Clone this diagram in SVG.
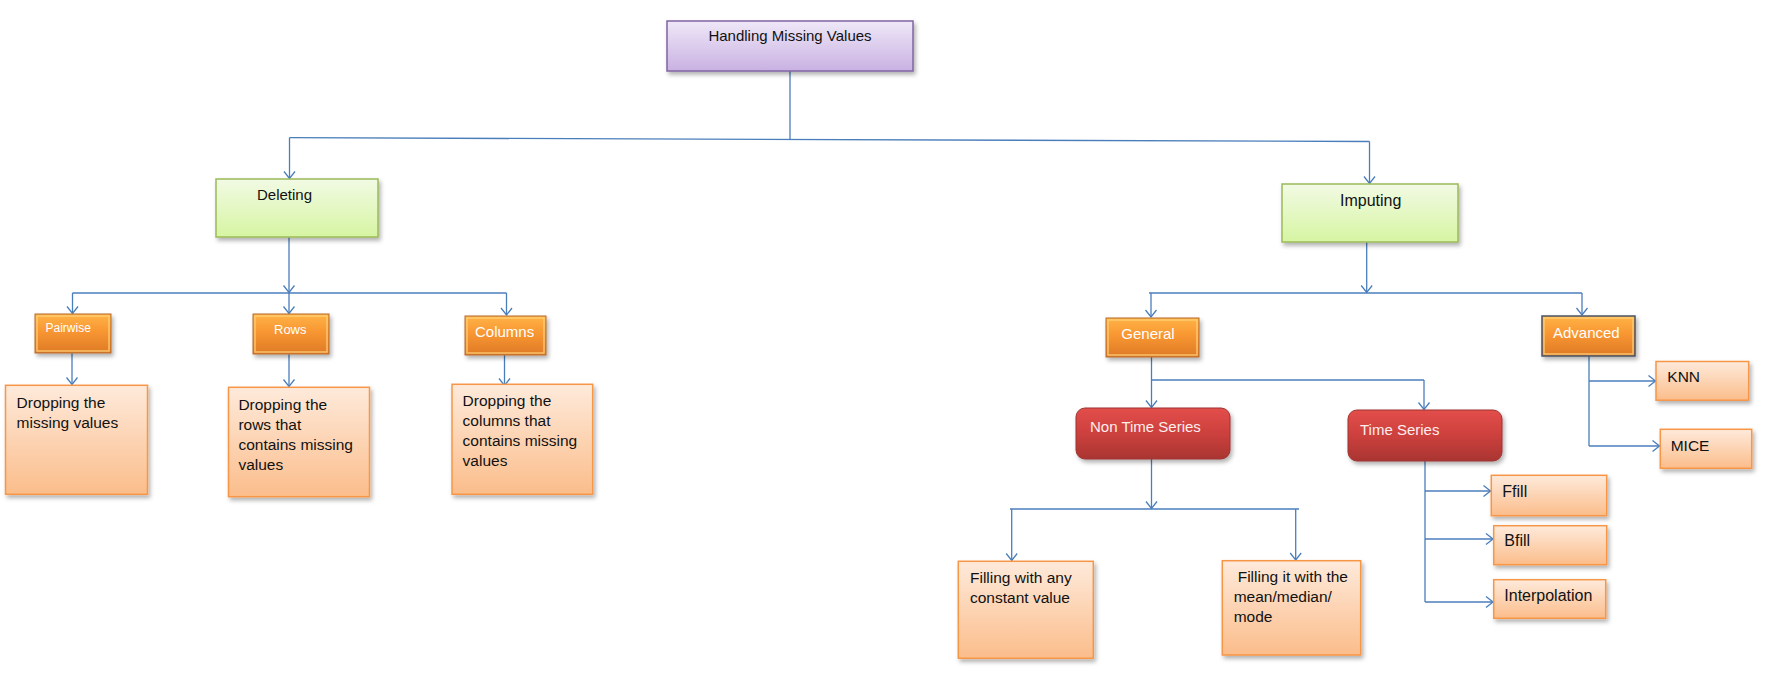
<svg xmlns="http://www.w3.org/2000/svg" width="1781" height="682" viewBox="0 0 1781 682">
  <style>
    text { font-family: "Liberation Sans", Arial, sans-serif; font-size: 15.5px; fill: #111; }
    .hd { font-size: 15px; }
    .wt { fill: #fff; font-size: 15px; }
    .pk { fill: #fdeeee; font-size: 15px; }
    .conn path { fill: none; stroke: #4a7ebb; stroke-width: 1.3; }
    .arr path { marker-end: url(#arr); }
    .root { fill: url(#gPurple); stroke: #8064a2; stroke-width: 1.5; }
    .cat { fill: url(#gGreen); stroke: #9bbb59; stroke-width: 1.5; }
    .orn { fill: url(#gOrange); stroke: #b86a2c; stroke-width: 1; }
    .hi { fill: none; stroke: #ffd27a; stroke-width: 1.5; opacity: 0.8; }
    .red { fill: url(#gRed); stroke: #9c3431; stroke-width: 1; }
    .leaf { fill: url(#gLeaf); stroke: #f79646; stroke-width: 1.5; }
    .sh { filter: url(#shadow); }
  </style>
  <defs>
    <linearGradient id="gPurple" x1="0" y1="0" x2="0" y2="1">
      <stop offset="0" stop-color="#efe8f8"/>
      <stop offset="1" stop-color="#c9b1e2"/>
    </linearGradient>
    <linearGradient id="gGreen" x1="0" y1="0" x2="0" y2="1">
      <stop offset="0" stop-color="#f2fae4"/>
      <stop offset="1" stop-color="#d6f5a2"/>
    </linearGradient>
    <linearGradient id="gOrange" x1="0" y1="0" x2="0" y2="1">
      <stop offset="0" stop-color="#ffb347"/>
      <stop offset="0.45" stop-color="#f89632"/>
      <stop offset="1" stop-color="#de7a26"/>
    </linearGradient>
    <linearGradient id="gRed" x1="0" y1="0" x2="0" y2="1">
      <stop offset="0" stop-color="#e34e4b"/>
      <stop offset="0.5" stop-color="#cc403d"/>
      <stop offset="1" stop-color="#a93532"/>
    </linearGradient>
    <linearGradient id="gLeaf" x1="0" y1="0" x2="0" y2="1">
      <stop offset="0" stop-color="#feeadb"/>
      <stop offset="1" stop-color="#fbbd8b"/>
    </linearGradient>
    <filter id="shadow" x="-10%" y="-10%" width="130%" height="140%">
      <feDropShadow dx="2" dy="3" stdDeviation="2" flood-color="#000" flood-opacity="0.3"/>
    </filter>
    <marker id="arr" markerUnits="userSpaceOnUse" markerWidth="14" markerHeight="14" refX="10" refY="6" orient="auto">
      <path d="M3,0.5 L10,6 L3,11.5" fill="none" stroke="#4a7ebb" stroke-width="1.3"/>
    </marker>
  </defs>

  <!-- connectors -->
  <g id="connectors" class="conn">
    <path d="M790,71 V139.5"/>
    <path d="M289.5,137.7 L1369.5,141.5"/>
    <path d="M72.5,293 H506.5"/>
    <path d="M1149,293 H1582"/>
    <path d="M1151.5,380 H1424"/>
    <path d="M1589,356 V446"/>
    <path d="M1010,509 H1299"/>
    <path d="M1425,460.7 V602"/>
    <g class="arr">
      <path d="M289.5,137.7 V178.5"/>
      <path d="M1369.5,141.5 V183.5"/>
      <path d="M289,237.3 V292.5"/>
      <path d="M72.5,293 V313.5"/>
      <path d="M289,293 V313.5"/>
      <path d="M506.5,293 V315"/>
      <path d="M72,353.3 V384.5"/>
      <path d="M289,354.3 V386.5"/>
      <path d="M504.5,355 V385.5"/>
      <path d="M1366.7,242.3 V292.5"/>
      <path d="M1151,293 V317"/>
      <path d="M1582,293 V315"/>
      <path d="M1151.5,356.7 V407.5"/>
      <path d="M1424,380 V409.5"/>
      <path d="M1589,381 H1655.5"/>
      <path d="M1589,446 H1659.5"/>
      <path d="M1151.5,459 V508.5"/>
      <path d="M1011.7,509 V560.5"/>
      <path d="M1295.7,509 V560"/>
      <path d="M1425,491 H1490.5"/>
      <path d="M1425,539 H1493"/>
      <path d="M1425,602 H1493"/>
    </g>
  </g>

  <!-- root -->
  <g id="handling-missing-values">
    <rect class="root sh" x="667" y="21" width="246" height="50"/>
    <text class="hd" x="790" y="41" text-anchor="middle">Handling Missing Values</text>
  </g>

  <!-- first level -->
  <g id="deleting">
    <rect class="cat sh" x="216" y="179" width="162" height="58"/>
    <text class="hd" x="257" y="200">Deleting</text>
  </g>
  <g id="imputing">
    <rect class="cat sh" x="1282" y="184" width="176" height="58"/>
    <text x="1340" y="206" style="font-size:16px">Imputing</text>
  </g>

  <!-- deleting branches -->
  <g id="pairwise">
    <rect class="orn sh" x="35" y="314" width="76" height="39"/>
    <rect class="hi" x="37" y="316" width="72" height="35"/>
    <text class="wt" x="45.5" y="332" style="font-size:12px">Pairwise</text>
  </g>
  <g id="rows">
    <rect class="orn sh" x="253" y="314" width="76" height="40"/>
    <rect class="hi" x="255" y="316" width="72" height="36"/>
    <text class="wt" x="274" y="334" style="font-size:13px">Rows</text>
  </g>
  <g id="columns">
    <rect class="orn sh" x="465" y="316" width="81" height="39"/>
    <rect class="hi" x="467" y="318" width="77" height="35"/>
    <text class="wt" x="475" y="337">Columns</text>
  </g>

  <g id="drop-pairwise">
    <rect class="leaf sh" x="5.5" y="385.3" width="142" height="109"/>
    <text x="16.6" y="407.7">Dropping the</text>
    <text x="16.6" y="427.7">missing values</text>
  </g>
  <g id="drop-rows">
    <rect class="leaf sh" x="228.5" y="387.3" width="141" height="109.4"/>
    <text x="238.4" y="409.5">Dropping the</text>
    <text x="238.4" y="429.5">rows that</text>
    <text x="238.4" y="449.5">contains missing</text>
    <text x="238.4" y="469.5">values</text>
  </g>
  <g id="drop-columns">
    <rect class="leaf sh" x="452" y="384.3" width="140.7" height="110"/>
    <text x="462.6" y="405.5">Dropping the</text>
    <text x="462.6" y="425.5">columns that</text>
    <text x="462.6" y="445.5">contains missing</text>
    <text x="462.6" y="465.5">values</text>
  </g>

  <!-- imputing branches -->
  <g id="general">
    <rect class="orn sh" x="1106" y="318" width="93" height="39"/>
    <rect class="hi" x="1108" y="320" width="89" height="35"/>
    <text class="wt" x="1121.3" y="338.7">General</text>
  </g>
  <g id="advanced">
    <rect class="orn sh" x="1542" y="316" width="93" height="40" style="stroke:#4b5566;stroke-width:1.5"/>
    <rect class="hi" x="1544" y="318" width="89" height="36"/>
    <text class="wt" x="1553" y="338">Advanced</text>
  </g>

  <g id="non-time-series">
    <rect class="red sh" x="1076" y="408" width="154" height="51" rx="9"/>
    <text class="pk" x="1090" y="432">Non Time Series</text>
  </g>
  <g id="time-series">
    <rect class="red sh" x="1348" y="410" width="154" height="51" rx="9"/>
    <text class="pk" x="1360" y="434.5">Time Series</text>
  </g>

  <g id="fill-constant">
    <rect class="leaf sh" x="958.3" y="561.3" width="135" height="97"/>
    <text x="970" y="583">Filling with any</text>
    <text x="970" y="603">constant value</text>
  </g>
  <g id="fill-mean">
    <rect class="leaf sh" x="1222.3" y="560.7" width="138.4" height="94.3"/>
    <text x="1237.7" y="581.5">Filling it with the</text>
    <text x="1233.7" y="601.5">mean/median/</text>
    <text x="1233.7" y="621.5">mode</text>
  </g>

  <g id="ffill">
    <rect class="leaf sh" x="1491.3" y="475.3" width="115.4" height="40.4"/>
    <text x="1502.3" y="497" style="font-size:16px">Ffill</text>
  </g>
  <g id="bfill">
    <rect class="leaf sh" x="1493.7" y="525.7" width="113" height="39"/>
    <text x="1504.3" y="545.5" style="font-size:16px">Bfill</text>
  </g>
  <g id="interpolation">
    <rect class="leaf sh" x="1493.7" y="579.7" width="112" height="38.6"/>
    <text x="1504.3" y="600.5" style="font-size:16px">Interpolation</text>
  </g>

  <g id="knn">
    <rect class="leaf sh" x="1656" y="361.5" width="92.7" height="38.7"/>
    <text x="1667.3" y="382">KNN</text>
  </g>
  <g id="mice">
    <rect class="leaf sh" x="1660.3" y="429.3" width="91.4" height="39"/>
    <text x="1670.7" y="450.5">MICE</text>
  </g>
</svg>
